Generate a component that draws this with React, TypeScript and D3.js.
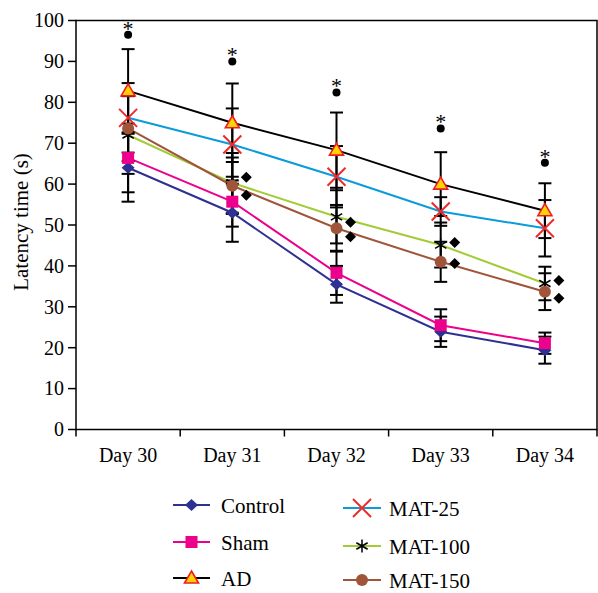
import React from "react";
import * as d3 from "d3";

const days = ["Day 30", "Day 31", "Day 32", "Day 33", "Day 34"];
const yTicks = [0, 10, 20, 30, 40, 50, 60, 70, 80, 90, 100];

const control = [64, 53, 35.5, 23.9, 19.4];
const controlErr = [8.3, 7.1, 4.5, 3.7, 3.3];
const sham = [66.4, 55.7, 38.3, 25.5, 21.1];
const shamErr = [8.4, 6.1, 5.4, 3.9, 2.6];
const ad = [82.8, 75, 68.3, 60, 53.5];
const adErr = [10.2, 9.6, 9.2, 7.8, 6.7];
const mat25 = [76.2, 69.7, 61.8, 53.3, 49.2];
const mat25Err = [8.5, 8.8, 7.5, 3.5, 6.9];
const mat100 = [72, 60.3, 52, 45.1, 35.7];
const mat100Err = [9.5, 7.3, 6.5, 5.5, 4.1];
const mat150 = [73.6, 59.6, 49.2, 41, 33.7];
const mat150Err = [8, 6.9, 5.7, 4.9, 4.5];

// significance annotations
const starDot = [96.5, 90, 82.4, 73.6, 65.2];
const diamondHigh = [null, 61.7, 50.7, 45.7, 36.4];
const diamondLow = [null, 57.3, 47.1, 40.6, 32.1];

const FONT = "Liberation Serif, Times New Roman, Times, serif";

type Series = {
  name: string;
  values: number[];
  err: number[];
  line: string;
  marker: string;
};

const series: Series[] = [
  { name: "Control", values: control, err: controlErr, line: "#2E3192", marker: "diamond" },
  { name: "Sham", values: sham, err: shamErr, line: "#EC008C", marker: "square" },
  { name: "AD", values: ad, err: adErr, line: "#000000", marker: "triangle" },
  { name: "MAT-25", values: mat25, err: mat25Err, line: "#0A9BDB", marker: "x" },
  { name: "MAT-100", values: mat100, err: mat100Err, line: "#A3CB38", marker: "asterisk" },
  { name: "MAT-150", values: mat150, err: mat150Err, line: "#A0553A", marker: "circle" },
];

function Marker({ type, cx, cy }: { type: string; cx: number; cy: number }) {
  switch (type) {
    case "diamond":
      return <path d={`M${cx},${cy - 6}L${cx + 6.5},${cy}L${cx},${cy + 6}L${cx - 6.5},${cy}Z`} fill="#2E3192" />;
    case "square":
      return <rect x={cx - 6} y={cy - 6} width={12} height={12} fill="#EC008C" />;
    case "triangle":
      return (
        <path
          d={`M${cx},${cy - 7}L${cx + 7},${cy + 5}L${cx - 7},${cy + 5}Z`}
          fill="#FFD200"
          stroke="#ED1C24"
          strokeWidth={1.6}
        />
      );
    case "x":
      return (
        <path
          d={`M${cx - 9},${cy - 9}L${cx + 9},${cy + 9}M${cx - 9},${cy + 9}L${cx + 9},${cy - 9}`}
          stroke="#EE2A2A"
          strokeWidth={2}
          fill="none"
        />
      );
    case "asterisk": {
      const r = 6.5;
      const t = r / 2;
      const u = t * Math.sqrt(3);
      return (
        <path
          d={`M${cx},${cy - r}L${cx},${cy + r}M${cx - u},${cy - t}L${cx + u},${cy + t}M${cx - u},${cy + t}L${cx + u},${cy - t}`}
          stroke="#000"
          strokeWidth={1.5}
          fill="none"
        />
      );
    }
    case "circle":
      return <circle cx={cx} cy={cy} r={6} fill="#A0553A" />;
    default:
      return null;
  }
}

export default function App() {
  const left = 76;
  const right = 597;
  const top = 20.5;
  const bottom = 429.5;

  const x = d3.scaleBand<string>().domain(days).range([left, right]);
  const cxOf = (d: string) => (x(d) as number) + x.bandwidth() / 2;
  const y = d3.scaleLinear().domain([0, 100]).range([bottom, top]);

  const lineGen = d3
    .line<number>()
    .x((_, i) => cxOf(days[i]))
    .y((v) => y(v));

  const boundaries = [...days.map((d) => x(d) as number), right];

  const legendLeft = [
    { s: series[0], y: 505 },
    { s: series[1], y: 542 },
    { s: series[2], y: 578 },
  ];
  const legendRight = [
    { s: series[3], y: 508 },
    { s: series[4], y: 546 },
    { s: series[5], y: 580 },
  ];

  const capHalf = 6.5;
  const txt = { fontFamily: FONT };

  return (
    <svg
      width={598}
      height={593}
      style={{ position: "absolute", left: 0, top: 0, background: "#fff", fontFamily: FONT }}
    >
      <rect x={0} y={0} width={598} height={593} fill="#fff" />
      {/* frame */}
      <rect x={left} y={top} width={right - left} height={bottom - top} fill="none" stroke="#000" strokeWidth={1.5} />

      {/* y axis ticks */}
      {yTicks.map((t) => (
        <g key={t}>
          <line x1={left - 8} x2={left} y1={y(t)} y2={y(t)} stroke="#000" strokeWidth={1.5} />
          <text x={left - 12} y={y(t)} dy="0.34em" textAnchor="end" fontSize={20} style={txt}>
            {t}
          </text>
        </g>
      ))}

      {/* x axis ticks */}
      {boundaries.map((b, i) => (
        <line key={i} x1={b} x2={b} y1={bottom} y2={bottom + 7} stroke="#000" strokeWidth={1.5} />
      ))}
      {days.map((d) => (
        <text key={d} x={cxOf(d)} y={462} textAnchor="middle" fontSize={20} style={txt}>
          {d}
        </text>
      ))}

      {/* y label */}
      <text transform="translate(28,222) rotate(-90)" textAnchor="middle" fontSize={21} style={txt}>
        Latency time (s)
      </text>

      {/* lines */}
      {series.map((s) => (
        <path key={s.name} d={lineGen(s.values) || ""} fill="none" stroke={s.line} strokeWidth={2} />
      ))}

      {/* error bars */}
      {series.map((s) =>
        s.values.map((v, i) => {
          const cx = cxOf(days[i]);
          const hi = y(v + s.err[i]);
          const lo = y(v - s.err[i]);
          return (
            <g key={s.name + i} stroke="#000" strokeWidth={2}>
              <line x1={cx} x2={cx} y1={hi} y2={lo} />
              <line x1={cx - capHalf} x2={cx + capHalf} y1={hi} y2={hi} />
              <line x1={cx - capHalf} x2={cx + capHalf} y1={lo} y2={lo} />
            </g>
          );
        })
      )}

      {/* markers */}
      {series.map((s) =>
        s.values.map((v, i) => <Marker key={s.name + "m" + i} type={s.marker} cx={cxOf(days[i])} cy={y(v)} />)
      )}

      {/* significance stars */}
      {starDot.map((v, i) => {
        const cx = cxOf(days[i]);
        return (
          <g key={"st" + i}>
            <circle cx={cx} cy={y(v)} r={4} fill="#000" />
            <text x={cx} y={y(v) + 1} textAnchor="middle" fontSize={22} style={txt}>
              *
            </text>
          </g>
        );
      })}

      {/* diamond annotations */}
      {[diamondHigh, diamondLow].map((arr, k) =>
        arr.map((v, i) => {
          if (v == null) return null;
          const cx = cxOf(days[i]) + 14;
          const cy = y(v);
          return <path key={"dm" + k + i} d={`M${cx},${cy - 5.5}L${cx + 5.5},${cy}L${cx},${cy + 5.5}L${cx - 5.5},${cy}Z`} fill="#000" />;
        })
      )}

      {/* legend */}
      {legendLeft.map(({ s, y: ly }) => (
        <g key={"lg" + s.name}>
          <line x1={173} x2={210} y1={ly} y2={ly} stroke={s.line} strokeWidth={2} />
          <Marker type={s.marker} cx={191.5} cy={ly} />
          <text x={221} y={ly + 8} fontSize={21} style={txt}>
            {s.name}
          </text>
        </g>
      ))}
      {legendRight.map(({ s, y: ly }) => (
        <g key={"lg" + s.name}>
          <line x1={343} x2={381} y1={ly} y2={ly} stroke={s.line} strokeWidth={2} />
          <Marker type={s.marker} cx={362} cy={ly} />
          <text x={389} y={ly + 8} fontSize={21} style={txt}>
            {s.name}
          </text>
        </g>
      ))}
    </svg>
  );
}
